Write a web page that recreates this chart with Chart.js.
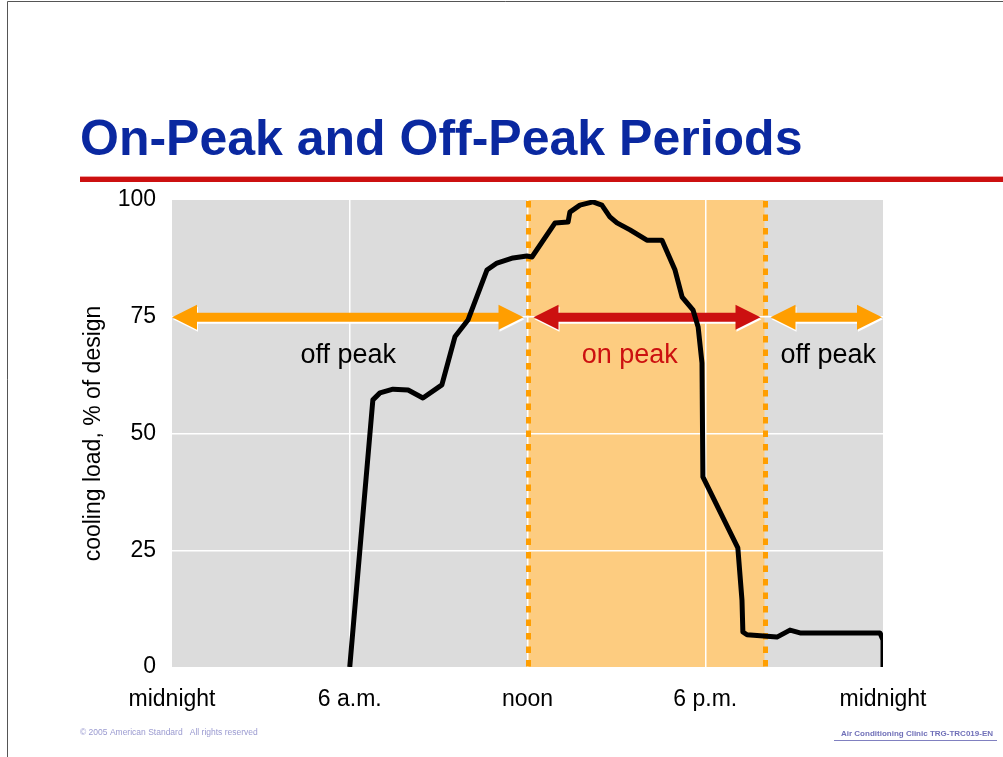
<!DOCTYPE html>
<html>
<head>
<meta charset="utf-8">
<script src="https://cdn.jsdelivr.net/npm/chart.js@4.4.1/dist/chart.umd.min.js"></script>
<style>
html,body{margin:0;padding:0;background:#fff;width:1003px;height:757px;overflow:hidden;}
#c{position:absolute;left:0;top:0;}
</style>
</head>
<body>
<canvas id="c" width="1003" height="757"></canvas>
<script>
// ---- data ----
const titleText = 'On-Peak and Off-Peak Periods';
const yAxisTitle = 'cooling load, % of design';
const xTickHours = [0, 6, 12, 18, 24];
const xTickLabels = ['midnight', '6 a.m.', 'noon', '6 p.m.', 'midnight'];
const yTicks = [0, 25, 50, 75, 100];
const hours = [6, 6.78, 7.02, 7.46, 7.97, 8.47, 9.11, 9.55, 9.99, 10.63, 10.97, 11.51, 11.98, 12.15, 12.93, 13.37, 13.43, 13.77, 14.21, 14.51, 14.78, 15.02, 15.46, 16.03, 16.54, 16.98, 17.22, 17.59, 17.76, 17.89, 17.92, 19.1, 19.24, 19.27, 19.41, 20.42, 20.86, 21.2, 23.9, 24.0, 24.0];
const load  = [0, 57.2, 58.7, 59.5, 59.3, 57.6, 60.4, 70.7, 74.3, 85.0, 86.5, 87.6, 88.0, 87.8, 95.1, 95.3, 97.4, 98.9, 99.6, 98.9, 96.4, 95.1, 93.6, 91.4, 91.4, 85.0, 79.2, 76.4, 72.8, 65.1, 40.7, 25.5, 14.3, 7.5, 6.9, 6.4, 7.9, 7.3, 7.3, 5.8, 0];
const onPeakStart = 12, onPeakEnd = 20;
const periodStarts = [0, 12, 20];
const periodEnds   = [12, 20, 24];
const periodNames  = ['off peak', 'on peak', 'off peak'];
const periodKinds  = ['off', 'on', 'off'];
const periodArrowLevel = 75;
const periodLabelHours = [5.95, 15.45, 22.15];
const footerLeft = '\u00A9 2005 American Standard   All rights reserved';
const footerRight = 'Air Conditioning Clinic TRG-TRC019-EN';

// ---- styles ----
const FONT = "'Liberation Sans', Arial, Helvetica, sans-serif";
const NARROW = "'Liberation Sans Narrow', 'Arial Narrow', 'Liberation Sans', Arial, sans-serif";
const ORANGE = '#ff9e00';
const RED = '#cc1010';
const BAND = '#fdcc80';
const GRAY = '#dcdcdc';

function drawArrow(ctx, x1, x2, y, color) {
  const sh = 4.4, hl = 25, hh = 12.5;
  const path = (dx, dy) => {
    ctx.beginPath();
    ctx.moveTo(x1 + dx, y + dy);
    ctx.lineTo(x1 + hl + dx, y - hh + dy);
    ctx.lineTo(x1 + hl + dx, y - sh + dy);
    ctx.lineTo(x2 - hl + dx, y - sh + dy);
    ctx.lineTo(x2 - hl + dx, y - hh + dy);
    ctx.lineTo(x2 + dx, y + dy);
    ctx.lineTo(x2 - hl + dx, y + hh + dy);
    ctx.lineTo(x2 - hl + dx, y + sh + dy);
    ctx.lineTo(x1 + hl + dx, y + sh + dy);
    ctx.lineTo(x1 + hl + dx, y + hh + dy);
    ctx.closePath();
  };
  ctx.fillStyle = '#ffffff';
  path(1, 2); ctx.fill();
  ctx.fillStyle = color;
  path(0, 0); ctx.fill();
}

const decor = {
  id: 'decor',
  beforeDraw(chart) {
    const {ctx, chartArea: a, scales: {x}} = chart;
    ctx.save();
    ctx.fillStyle = GRAY;
    ctx.fillRect(a.left, a.top, a.right - a.left, a.bottom - a.top);
    const b1 = x.getPixelForValue(onPeakStart), b2 = x.getPixelForValue(onPeakEnd);
    ctx.fillStyle = BAND;
    ctx.fillRect(b1, a.top, b2 - b1, a.bottom - a.top);
    ctx.restore();
  },
  beforeDatasetsDraw(chart) {
    const {ctx, chartArea: a, scales: {x, y}} = chart;
    ctx.save();
    // dotted boundaries
    ctx.strokeStyle = ORANGE;
    ctx.lineWidth = 5;
    ctx.setLineDash([6.5, 7]);
    [onPeakStart, onPeakEnd].forEach(h => {
      const px = Math.round(x.getPixelForValue(h)) + 0.5;
      ctx.beginPath();
      ctx.moveTo(px, a.top + 1);
      ctx.lineTo(px, a.bottom);
      ctx.stroke();
    });
    ctx.setLineDash([]);
    // arrows
    const ay = y.getPixelForValue(periodArrowLevel) + 0.5;
    periodStarts.forEach((s, i) => {
      const e = periodEnds[i];
      const x1 = x.getPixelForValue(s) + (s > 0 ? 6 : 0);
      const x2 = x.getPixelForValue(e) - (e < 24 ? 4 : 1);
      drawArrow(ctx, x1, x2, ay, periodKinds[i] === 'on' ? RED : ORANGE);
    });
    // labels
    ctx.font = '27px ' + FONT;
    ctx.textAlign = 'center';
    ctx.textBaseline = 'alphabetic';
    periodNames.forEach((n, i) => {
      ctx.fillStyle = periodKinds[i] === 'on' ? RED : '#000';
      ctx.fillText(n, x.getPixelForValue(periodLabelHours[i]), 363);
    });
    ctx.restore();
  },
  afterDraw(chart) {
    const {ctx} = chart;
    ctx.save();
    // page border
    ctx.strokeStyle = '#555';
    ctx.lineWidth = 1;
    ctx.beginPath();
    ctx.moveTo(7.5, 757); ctx.lineTo(7.5, 1.5); ctx.lineTo(1003, 1.5);
    ctx.stroke();
    // title
    ctx.fillStyle = '#0a28a0';
    ctx.font = 'bold 50px ' + FONT;
    ctx.textAlign = 'left';
    ctx.textBaseline = 'alphabetic';
    ctx.fillText(titleText, 80, 155);
    // red rule
    ctx.fillStyle = '#f0a0a0';
    ctx.fillRect(80, 176, 923, 1);
    ctx.fillStyle = '#cc1010';
    ctx.fillRect(80, 177, 923, 5);
    // footers
    ctx.font = '8.5px ' + FONT;
    ctx.fillStyle = '#9a9ad0';
    ctx.fillText(footerLeft, 80, 735);
    ctx.font = 'bold 8px ' + FONT;
    ctx.fillStyle = '#7070b8';
    ctx.textAlign = 'right';
    ctx.fillText(footerRight, 993, 736);
    ctx.fillStyle = '#8080c0';
    ctx.fillRect(834, 740, 163, 1);
    ctx.restore();
  }
};

const gridColor = (ctx, lo, hi) => (ctx.tick && ctx.tick.value > lo && ctx.tick.value < hi) ? '#ffffff' : 'rgba(0,0,0,0)';

new Chart(document.getElementById('c').getContext('2d'), {
  type: 'line',
  data: {
    datasets: [{
      data: hours.map((h, i) => ({x: h, y: load[i]})),
      borderColor: '#000',
      borderWidth: 5,
      pointRadius: 0,
      tension: 0,
      fill: false,
      borderJoinStyle: 'round',
      borderCapStyle: 'butt'
    }]
  },
  options: {
    responsive: false,
    animation: false,
    devicePixelRatio: 1,
    layout: {padding: {left: 60, top: 200, right: 120, bottom: 0}},
    plugins: {legend: {display: false}, tooltip: {enabled: false}},
    scales: {
      x: {
        type: 'linear', min: 0, max: 24,
        afterBuildTicks: s => { s.ticks = xTickHours.map(v => ({value: v})); },
        afterFit: s => { s.height = 90; },
        ticks: {
          autoSkip: false, maxRotation: 0, minRotation: 0,
          callback: v => xTickLabels[xTickHours.indexOf(v)],
          font: {family: FONT, size: 23}, color: '#000', padding: 19
        },
        grid: {color: c => gridColor(c, 0, 24), lineWidth: 1.5, drawTicks: false},
        border: {display: false}
      },
      y: {
        min: 0, max: 100,
        afterBuildTicks: s => { s.ticks = yTicks.map(v => ({value: v})); },
        afterFit: s => { s.width = 112; },
        ticks: {font: {family: NARROW, size: 23}, color: '#000', padding: 16},
        grid: {color: c => gridColor(c, 0, 100), lineWidth: 1.5, drawTicks: false},
        border: {display: false},
        title: {display: true, text: yAxisTitle, font: {family: FONT, size: 23}, color: '#000', padding: {top: 20, bottom: 0}}
      }
    }
  },
  plugins: [decor]
});
</script>
</body>
</html>
